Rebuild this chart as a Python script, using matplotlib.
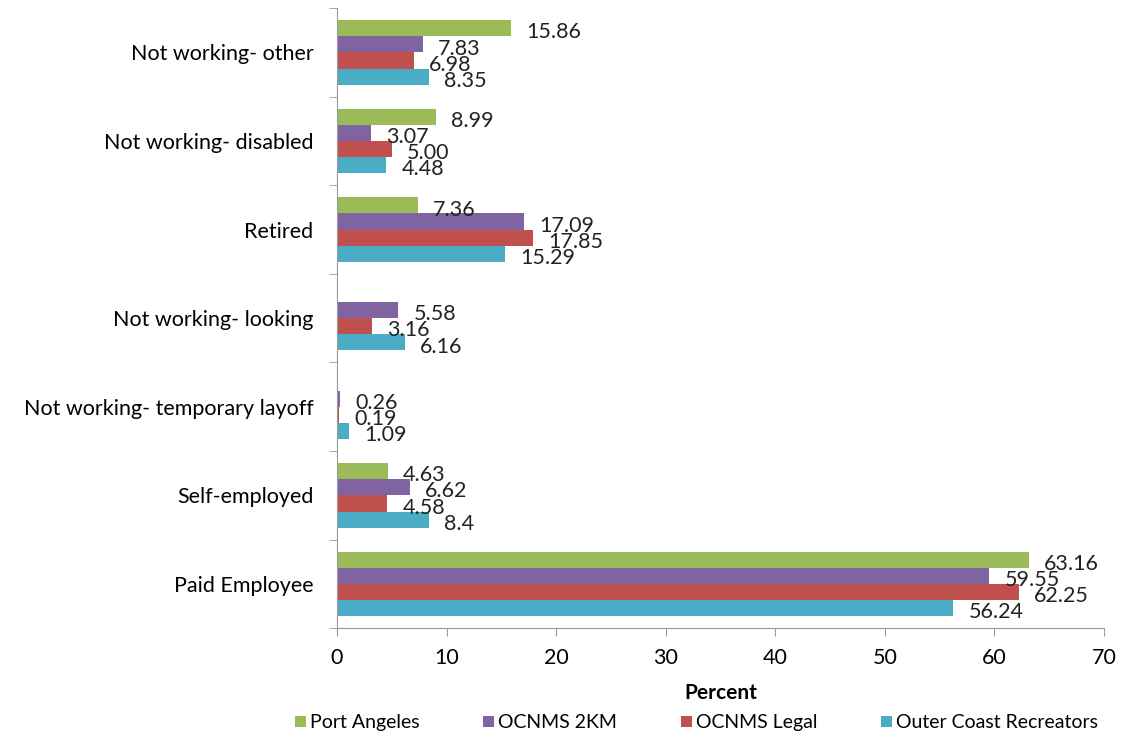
import matplotlib.pyplot as plt
import numpy as np

# employment status categories, bottom to top
categories = ['Paid Employee', 'Self-employed', 'Not working- temporary layoff',
              'Not working- looking', 'Retired', 'Not working- disabled',
              'Not working- other']
series = ['Port Angeles', 'OCNMS 2KM', 'OCNMS Legal', 'Outer Coast Recreators']
colors = ['#9BBB59', '#8064A2', '#C0504D', '#4BACC6']

port_angeles = [63.16, 4.63, None, None, 7.36, 8.99, 15.86]
ocnms_2km = [59.55, 6.62, 0.26, 5.58, 17.09, 3.07, 7.83]
ocnms_legal = [62.25, 4.58, 0.19, 3.16, 17.85, 5.00, 6.98]
outer_coast = [56.24, 8.4, 1.09, 6.16, 15.29, 4.48, 8.35]
labels_fmt = [
    ['63.16', '4.63', None, None, '7.36', '8.99', '15.86'],
    ['59.55', '6.62', '0.26', '5.58', '17.09', '3.07', '7.83'],
    ['62.25', '4.58', '0.19', '3.16', '17.85', '5.00', '6.98'],
    ['56.24', '8.4', '1.09', '6.16', '15.29', '4.48', '8.35'],
]
values = [port_angeles, ocnms_2km, ocnms_legal, outer_coast]

plt.rcParams['font.family'] = ['Lato', 'DejaVu Sans']

fig = plt.figure(figsize=(11.25, 7.4), dpi=100)
ax = fig.add_axes([0.2996, 0.151, 0.6817, 0.838])

y = np.arange(len(categories))
h = 0.182
offsets = [1.5 * h, 0.5 * h, -0.5 * h, -1.5 * h]

for vals, labs, off, col, name in zip(values, labels_fmt, offsets, colors, series):
    v = np.array([np.nan if x is None else x for x in vals], dtype=float)
    ax.barh(y + off, np.nan_to_num(v), height=h, color=col, label=name)
    for yi, vi, li in zip(y, v, labs):
        if li is None:
            continue
        ax.annotate(li, (vi, yi + off), xytext=(11, -3), textcoords='offset points',
                    ha='left', va='center', fontsize=15.5, color='#222222')

ax.set_xlim(0, 70)
ax.set_ylim(-0.5, len(categories) - 0.5)
ax.set_xticks(np.arange(0, 71, 10))
ax.set_yticks(y)
ax.set_yticklabels(categories, fontsize=15.5)
ax.set_yticks(np.arange(-0.5, len(categories), 1), minor=True)
ax.tick_params(axis='y', which='major', length=0, pad=17)
ax.tick_params(axis='y', which='minor', length=6, color='#999999')
ax.tick_params(axis='x', length=6, color='#999999', labelsize=15.5, pad=8)
for s in ['top', 'right']:
    ax.spines[s].set_visible(False)
for s in ['left', 'bottom']:
    ax.spines[s].set_color('#999999')

ax.set_xlabel('Percent', fontsize=15, fontweight='bold', labelpad=11)

handles, lbls = ax.get_legend_handles_labels()
fig.legend(handles, lbls, loc='lower center', bbox_to_anchor=(0.619, -0.012),
           ncol=4, frameon=False, fontsize=14, handlelength=0.55, handleheight=0.55,
           handletextpad=0.2, columnspacing=3.3)

fig.savefig('out.png', dpi=100)
